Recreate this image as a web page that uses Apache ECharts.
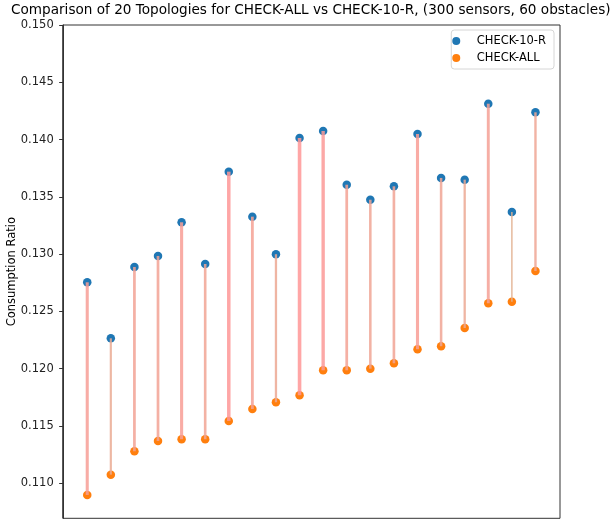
<!DOCTYPE html>
<html>
<head>
<meta charset="utf-8">
<script src="https://cdn.jsdelivr.net/npm/echarts@6/dist/echarts.min.js"></script>
<style>
  html, body { margin: 0; padding: 0; background: #fff; }
  #chart { width: 610px; height: 520px; }
</style>
</head>
<body>
<div id="chart"></div>
<script>
// Topology numbers along the x axis
const topologies = [1, 2, 3, 4, 5, 6, 7, 8, 9, 10, 11, 12, 13, 14, 15, 16, 17, 18, 19, 20];

// Consumption ratio per topology, CHECK-10-R
const check10R = [0.12754, 0.12265, 0.12888, 0.12984, 0.13278, 0.12914, 0.13720, 0.13327, 0.12999, 0.14014,
                  0.14075, 0.13606, 0.13475, 0.13592, 0.14049, 0.13665, 0.13650, 0.14313, 0.13368, 0.14238];

// Consumption ratio per topology, CHECK-ALL
const checkAll = [0.10898, 0.11075, 0.11279, 0.11369, 0.11384, 0.11384, 0.11544, 0.11648, 0.11707, 0.11768,
                  0.11986, 0.11986, 0.12000, 0.12047, 0.12170, 0.12196, 0.12355, 0.12571, 0.12585, 0.12853];

// Y tick labels
const yTicks = [0.110, 0.115, 0.120, 0.125, 0.130, 0.135, 0.140, 0.145, 0.150];

const FONT = 'DejaVu Sans';

const gaps = topologies.map((t, i) => check10R[i] - checkAll[i]);
const gapMin = Math.min(...gaps), gapMax = Math.max(...gaps);

// Connector colour/width grows with the gap between the two methods
function connectorStyle(gap) {
  const t = (gap - gapMin) / (gapMax - gapMin);
  const c0 = [226, 178, 146], c1 = [255, 150, 150];
  const c = c0.map((v, k) => Math.round(v + (c1[k] - v) * t));
  return { stroke: `rgb(${c[0]},${c[1]},${c[2]})`, lineWidth: 1.6 + 2.0 * t };
}

const chart = echarts.init(document.getElementById('chart'), null, { renderer: 'canvas' });

chart.setOption({
  animation: false,
  backgroundColor: '#fff',
  title: {
    text: 'Comparison of 20 Topologies for CHECK-ALL vs CHECK-10-R, (300 sensors, 60 obstacles)',
    left: 11,
    top: 3,
    padding: 0,
    textStyle: { fontFamily: FONT, fontSize: 13.6, fontWeight: 'normal', color: '#000' }
  },
  legend: {
    orient: 'vertical',
    right: 56,
    top: 30,
    padding: [5, 8, 5, 1],
    itemGap: 5,
    itemWidth: 31,
    itemHeight: 8,
    borderColor: '#d6d6d6',
    borderWidth: 1,
    borderRadius: 3,
    textStyle: { fontFamily: FONT, fontSize: 11.5, color: '#000' },
    data: [
      { name: 'CHECK-10-R', icon: 'circle' },
      { name: 'CHECK-ALL', icon: 'circle' }
    ]
  },
  grid: {
    left: 62.7, right: 50, top: 25, bottom: 1.7,
    show: true, borderColor: '#333', borderWidth: 1,
    containLabel: false,
    outerBoundsMode: 'none'
  },
  xAxis: {
    type: 'value',
    min: -0.04,
    max: 21.04,
    axisLine: { show: false },
    axisTick: { show: false },
    axisLabel: { show: false },
    splitLine: { show: false }
  },
  yAxis: {
    type: 'value',
    min: 0.10694,
    max: 0.150,
    name: 'Consumption Ratio',
    nameLocation: 'middle',
    nameRotate: 90,
    nameGap: 45,
    nameMoveOverlap: false,
    nameTextStyle: { fontFamily: FONT, fontSize: 11.5, color: '#000' },
    axisLine: { show: true, lineStyle: { color: '#333', width: 1 } },
    axisTick: { show: true, length: 4.5, customValues: yTicks, lineStyle: { color: '#333' } },
    axisLabel: {
      customValues: yTicks,
      margin: 9,
      fontFamily: FONT, fontSize: 11.5, color: '#222',
      formatter: v => v.toFixed(3)
    },
    splitLine: { show: false }
  },
  series: [
    {
      name: 'CHECK-10-R',
      type: 'scatter',
      symbol: 'circle',
      symbolSize: 8.5,
      itemStyle: { color: '#1f77b4', opacity: 1 },
      z: 2,
      data: topologies.map((t, i) => [t, check10R[i]])
    },
    {
      name: 'CHECK-ALL',
      type: 'scatter',
      symbol: 'circle',
      symbolSize: 8.5,
      itemStyle: { color: '#ff7f0e', opacity: 1 },
      z: 2,
      data: topologies.map((t, i) => [t, checkAll[i]])
    },
    {
      name: 'gap',
      type: 'custom',
      z: 3,
      silent: true,
      data: topologies.map((t, i) => [t, check10R[i], checkAll[i]]),
      renderItem: (params, api) => {
        const top = api.coord([api.value(0), api.value(1)]);
        const bot = api.coord([api.value(0), api.value(2)]);
        const st = connectorStyle(api.value(1) - api.value(2));
        return {
          type: 'line',
          shape: { x1: top[0], y1: top[1], x2: bot[0], y2: bot[1] },
          style: { stroke: st.stroke, lineWidth: st.lineWidth, opacity: 0.85 }
        };
      }
    }
  ]
});
</script>
</body>
</html>
